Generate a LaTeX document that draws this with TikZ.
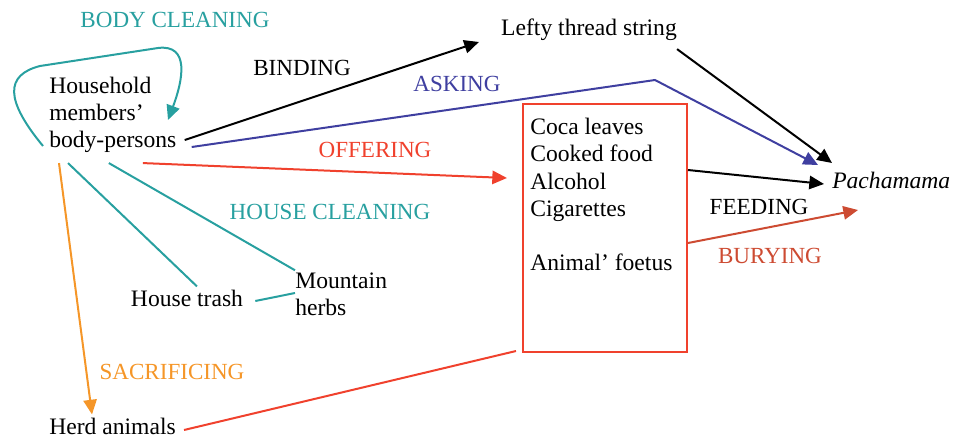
\documentclass[tikz,border=0pt]{standalone}
\usepackage{fontspec}
\setmainfont{Liberation Serif}
\usetikzlibrary{arrows.meta}
\definecolor{teal1}{RGB}{40,160,160}
\definecolor{blue1}{RGB}{63,63,160}
\definecolor{red1}{RGB}{240,65,45}
\definecolor{orange1}{RGB}{245,150,40}
\definecolor{bury1}{RGB}{205,75,50}
\begin{document}
\begin{tikzpicture}[x=0.75pt,y=-0.75pt,
  txt/.style={inner sep=0pt,font=\fontsize{17.7}{20.3}\selectfont,align=left},
  lab/.style={inner sep=0pt,font=\fontsize{17.3}{20.3}\selectfont},
  conn/.style={line width=1.5pt},
  arr/.style={conn,-{Triangle[length=11pt,width=10pt]}},
  offerbox/.style={draw=red1,line width=1.5pt,minimum width=123pt,minimum height=186pt,inner sep=0pt}]
\useasboundingbox (0,0) rectangle (953,440);
% nodes
\node[txt,anchor=west] (hh) at (49,115) {Household\\members’\\body-persons};
\node[txt] (lefty) at (589,30) {Lefty thread string};
\node[txt,anchor=west] (pacha) at (832,180) {\itshape Pachamama};
\node[offerbox] (box) at (605,228) {};
\node[txt,anchor=west] (goods) at (530,194.5) {Coca leaves\\Cooked food\\Alcohol\\Cigarettes\\[20.3pt]Animal’ foetus};
\node[txt] (trash) at (187,298) {House trash};
\node[txt,anchor=west] (herbs) at (295,294) {Mountain\\herbs};
\node[txt,anchor=west] (herd) at (49,426) {Herd animals};
% labels
\node[lab,text=teal1] (lbody) at (175,20) {BODY CLEANING};
\node[lab] (lbind) at (302,68) {BINDING};
\node[lab,text=blue1] (lask) at (457,84) {ASKING};
\node[lab,text=red1] (loffer) at (375,150) {OFFERING};
\node[lab,text=teal1] (lhouse) at (330,212) {HOUSE CLEANING};
\node[lab] (lfeed) at (759,207) {FEEDING};
\node[lab,text=bury1] (lbury) at (770,256) {BURYING};
\node[lab,text=orange1] (lsacr) at (172,372) {SACRIFICING};
\coordinate (askbend) at (655,80);
% connectors
\draw[arr] ([shift={(8,25)}]hh.east) -- ([shift={(-22,12)}]lefty.west);
\draw[arr,blue1] ([shift={(15,32)}]hh.east) -- (askbend) -- ([shift={(-14,-15)}]pacha.west);
\draw[arr] ([shift={(0,8)}]lefty.south east) -- ([shift={(0,-17)}]pacha.west);
\draw[arr,red1] ([shift={(30,10)}]hh.south) -- ([shift={(-15,-50)}]box.west);
\draw[arr] ([shift={(0,-58)}]box.east) -- ([shift={(-8,4)}]pacha.west);
\draw[arr,bury1] ([shift={(0,15)}]box.east) -- ([shift={(26,30)}]pacha.west);
\draw[conn,teal1] ([shift={(19,10)}]hh.south west) -- ([shift={(10,-3)}]trash.north);
\draw[conn,teal1] ([shift={(-4,10)}]hh.south) -- ([shift={(0,-2)}]herbs.north west);
\draw[conn,teal1] ([shift={(12,3)}]trash.east) -- ([shift={(0,-1)}]herbs.west);
\draw[arr,orange1] ([shift={(10,10)}]hh.south west) -- ([shift={(43,-3)}]herd.north west);
\draw[conn,red1] ([shift={(8,4)}]herd.east) -- ([shift={(-6,-2)}]box.south west);
\draw[arr,teal1] ([shift={(-6,31)}]hh.west) .. controls (5,100) and (5,75) .. (40,66) -- (158,48) .. controls (190,44) and (183,80) .. ([shift={(119,5)}]hh.west);
\end{tikzpicture}
\end{document}
